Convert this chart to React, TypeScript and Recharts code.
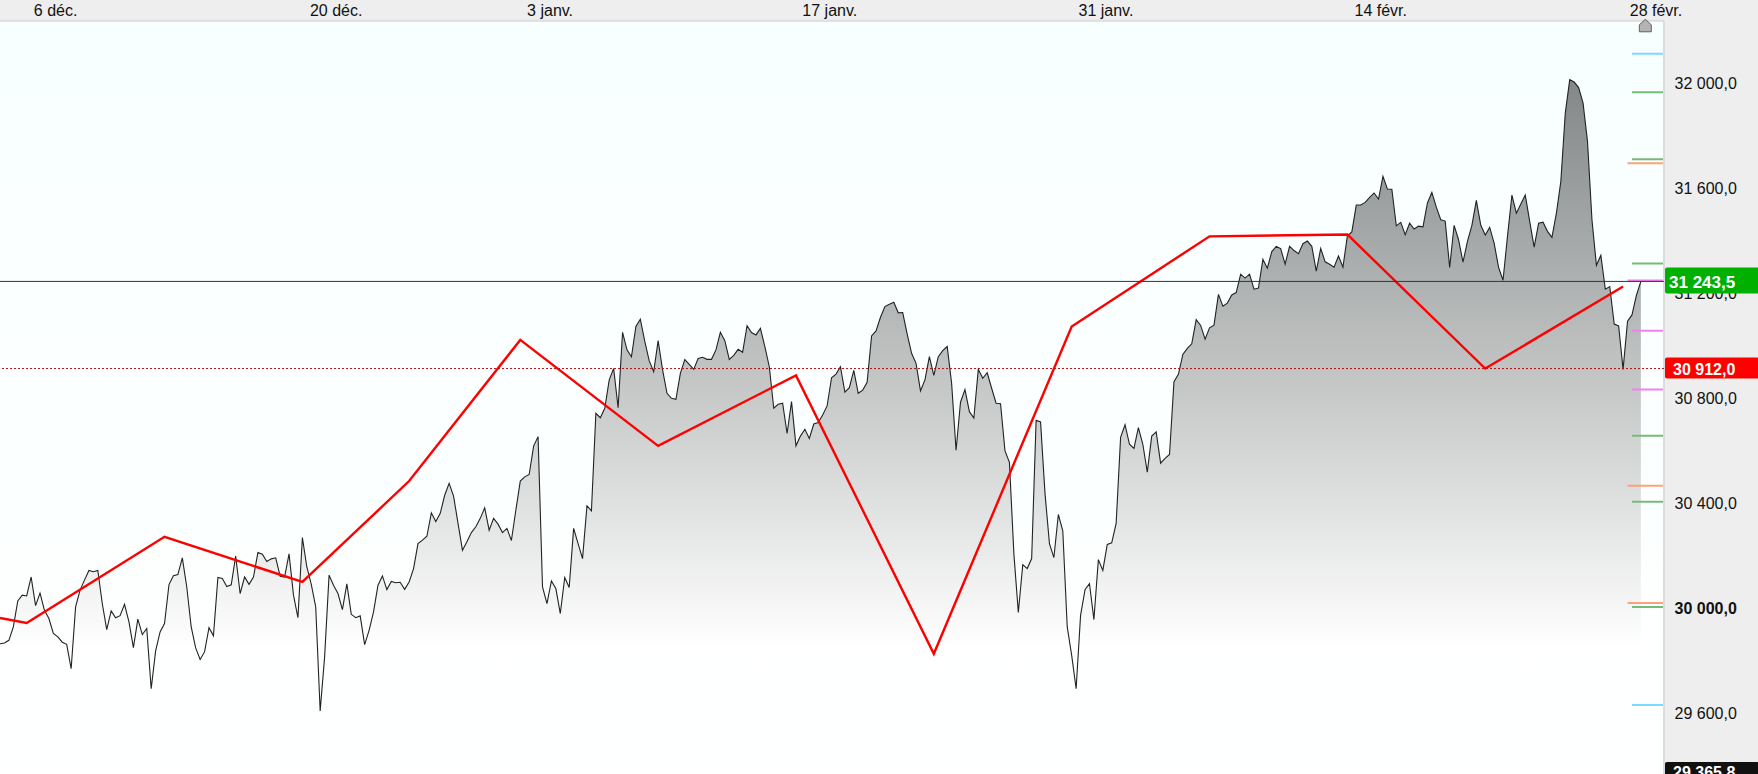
// App.tsx
import {
  ComposedChart,
  Area,
  Line,
  XAxis,
  YAxis,
  CartesianGrid,
  ReferenceLine,
  ReferenceDot,
} from 'recharts';

// Close of every bar
const closes = [
  29865, 29868, 29878, 29929, 30028, 30050, 30047, 30119, 30010, 30058, 29992, 29961, 29904, 29891, 29871, 29863,
  29770, 30005, 30069, 30107, 30144, 30139, 30144, 30018, 29919, 29990, 29964, 29972, 30015, 29948, 29850, 29959,
  29900, 29923, 29694, 29838, 29910, 29942, 30090, 30124, 30128, 30192, 30081, 29929, 29849, 29805, 29834, 29926,
  29895, 30117, 30113, 30083, 30089, 30199, 30056, 30119, 30091, 30119, 30212, 30206, 30178, 30188, 30192, 30122,
  30119, 30207, 30050, 29964, 30269, 30157, 30091, 30005, 29609, 29815, 30126, 30088, 30056, 29995, 30093, 29977,
  29964, 29971, 29862, 29916, 29986, 30088, 30123, 30071, 30102, 30097, 30099, 30072, 30100, 30151, 30246, 30259,
  30274, 30363, 30330, 30361, 30430, 30475, 30427, 30323, 30221, 30253, 30288, 30310, 30342, 30382, 30297, 30342,
  30320, 30288, 30304, 30258, 30373, 30484, 30500, 30509, 30617, 30653, 30081, 30018, 30104, 30075, 29980, 30117,
  30079, 30304, 30246, 30189, 30390, 30371, 30742, 30725, 30761, 30869, 30912, 30763, 31050, 30983, 30957, 31072,
  31100, 31015, 30941, 30900, 31018, 30907, 30818, 30799, 30795, 30894, 30946, 30928, 30909, 30950, 30955, 30947,
  30947, 30983, 31050, 31018, 30947, 30962, 30985, 30974, 31075, 31049, 31040, 31065, 30995, 30919, 30761, 30776,
  30780, 30665, 30786, 30618, 30655, 30681, 30646, 30701, 30707, 30735, 30770, 30877, 30891, 30919, 30822, 30839,
  30905, 30818, 30830, 30860, 31036, 31055, 31107, 31148, 31157, 31164, 31124, 31125, 31044, 30970, 30932, 30827,
  30869, 30957, 30886, 30957, 30980, 30996, 30856, 30601, 30784, 30832, 30748, 30724, 30909, 30875, 30896, 30837,
  30780, 30778, 30599, 30555, 30208, 29984, 30166, 30151, 30189, 30715, 30709, 30437, 30246, 30193, 30357, 30295,
  29929, 29821, 29694, 29973, 30071, 30094, 29957, 30185, 30144, 30243, 30249, 30323, 30650, 30698, 30624, 30608,
  30687, 30624, 30518, 30655, 30671, 30552, 30570, 30585, 30862, 30890, 30966, 30989, 31006, 31098, 31076, 31024,
  31067, 31077, 31194, 31149, 31161, 31192, 31201, 31271, 31256, 31271, 31214, 31218, 31328, 31294, 31357, 31377,
  31368, 31309, 31377, 31361, 31349, 31387, 31397, 31377, 31283, 31369, 31318, 31309, 31298, 31340, 31298, 31417,
  31432, 31534, 31534, 31544, 31563, 31580, 31557, 31643, 31595, 31594, 31455, 31468, 31421, 31465, 31443, 31454,
  31451, 31542, 31582, 31526, 31478, 31473, 31297, 31457, 31402, 31317, 31396, 31457, 31552, 31457, 31420, 31449,
  31389, 31297, 31248, 31415, 31572, 31503, 31538, 31572, 31472, 31374, 31465, 31469, 31434, 31411, 31503, 31624,
  31884, 32011, 32002, 31981, 31922, 31776, 31478, 31305, 31343, 31214, 31224, 31081, 31074, 30909, 31092, 31116,
  31191, 31243.5,
];

// weekly red line
const trendBars = [0, 6, 37, 68, 92, 117, 148, 179, 210, 241, 272, 303, 334, 365];
const trendValues = [29963, 29944, 30272, 30100, 30484, 31021, 30618, 30886, 29827, 31072, 31415, 31422, 30912, 31224];

const dateBars = [12.5, 75.6, 123.7, 186.6, 248.7, 310.5, 372.4];
const dateLabels = ['6 déc.', '20 déc.', '3 janv.', '17 janv.', '31 janv.', '14 févr.', '28 févr.'];
const priceTicks = [29600, 30000, 30400, 30800, 31200, 31600, 32000];

const lastPrice = 31243.5;
const refPrice = 30912;
const lowPrice = 29365.8;

// little marks on the right edge of the plot
const greenLevels = [31963, 31708, 31312, 30656, 30405, 30005];
const pinkLevels = [31056, 30832];
const cyanLevels = [32110, 29632];
const orangeLevels = [31693, 30466, 30020];
const longPinkLevels = [31247];

const BAR_MAX = 374.2;
const SHORT_FROM = 367;
const LONG_FROM = 366;
const TAG_Z = 2500; // tags sit above the axis ticks

const rows = closes.map((close, bar) => {
  const t = trendBars.indexOf(bar);
  return { bar, close, trend: t >= 0 ? trendValues[t] : null };
});

const formatPrice = (v: number) => {
  const fixed = v.toFixed(1).replace('.', ',');
  return fixed.slice(0, fixed.length - 5) + ' ' + fixed.slice(-5);
};

const PriceTick = ({ x, y, payload }: any) => (
  <text
    x={x + 2.5}
    y={y + 6}
    fontSize={16}
    fontFamily="Liberation Sans"
    fontWeight={payload.value === 30000 ? 700 : 400}
    fill="#111"
  >
    {formatPrice(payload.value)}
  </text>
);

const DateTick = ({ x, payload }: any) => (
  <text x={x} y={16} fontSize={16} fontFamily="Liberation Sans" textAnchor="middle" fill="#111">
    {dateLabels[dateBars.indexOf(payload.value)]}
  </text>
);

const priceTag = (value: number, fill: string, top: number, bottom: number, textX: number, size: number, base: number) =>
  ({ viewBox }: any) => {
    const left = viewBox.x + viewBox.width + 1;
    return (
      <g>
        <rect x={left} y={viewBox.y - top} width={94} height={top + bottom} fill={fill} rx={2} />
        <text
          x={left + textX}
          y={viewBox.y + base}
          fontSize={size}
          fontWeight={700}
          fontFamily="Liberation Sans"
          fill="#fff"
        >
          {formatPrice(value)}
        </text>
      </g>
    );
  };

const HomeMark = ({ cx, cy }: any) => (
  <path
    d={`M${cx - 6} ${cy + 6} V${cy - 1} L${cx} ${cy - 6.5} L${cx + 6} ${cy - 1} V${cy + 6} Z`}
    fill="#b4b4b4"
    stroke="#444"
    strokeWidth={0.8}
  />
);

const levelLine = (level: number, color: string, from: number) => (
  <ReferenceLine
    key={`${color}-${level}`}
    segment={[
      { x: from, y: level },
      { x: BAR_MAX, y: level },
    ]}
    stroke={color}
    strokeWidth={2}
  />
);

export default function App() {
  return (
    <div style={{ position: 'absolute', left: 0, top: 0, width: 1758, height: 774, background: '#eeeeee', overflow: 'hidden' }}>
      <ComposedChart width={1758} height={774} data={rows} margin={{ top: 0, right: 0, bottom: 0, left: 0 }}>
        <defs>
          <linearGradient id="plotBg" x1="0" y1="0" x2="0" y2="1">
            <stop offset="0%" stopColor="#f8ffff" />
            <stop offset="70%" stopColor="#fdffff" />
            <stop offset="100%" stopColor="#ffffff" />
          </linearGradient>
          <linearGradient id="closeFill" x1="0" y1="0" x2="0" y2="1">
            <stop offset="0%" stopColor="#838787" />
            <stop offset="82%" stopColor="#ffffff" />
            <stop offset="100%" stopColor="#ffffff" stopOpacity={0} />
          </linearGradient>
        </defs>
        <CartesianGrid horizontal={false} vertical={false} fill="url(#plotBg)" />
        <XAxis
          dataKey="bar"
          type="number"
          orientation="top"
          domain={[0, BAR_MAX]}
          ticks={dateBars}
          interval={0}
          height={20.7}
          tickLine={false}
          axisLine={{ stroke: '#dddddd', strokeWidth: 2 }}
          tick={DateTick}
        />
        <YAxis
          orientation="right"
          type="number"
          width={94}
          domain={[29369.5, 32235.4]}
          ticks={priceTicks}
          interval={0}
          tickLine={false}
          axisLine={{ stroke: '#dcdcdc', strokeWidth: 2 }}
          tick={PriceTick}
        />
        <Area
          dataKey="close"
          type="linear"
          stroke="#222222"
          strokeWidth={1.1}
          fill="url(#closeFill)"
          fillOpacity={1}
          dot={false}
          activeDot={false}
          isAnimationActive={false}
        />
        <Line
          dataKey="trend"
          type="linear"
          stroke="#ff0000"
          strokeWidth={2.4}
          connectNulls
          dot={false}
          activeDot={false}
          isAnimationActive={false}
        />
        {greenLevels.map((l) => levelLine(l, '#78ba78', SHORT_FROM))}
        {pinkLevels.map((l) => levelLine(l, '#f47ff2', SHORT_FROM))}
        {cyanLevels.map((l) => levelLine(l, '#7fd8ff', SHORT_FROM))}
        {orangeLevels.map((l) => levelLine(l, '#ffa07a', LONG_FROM))}
        {longPinkLevels.map((l) => levelLine(l, '#f47ff2', LONG_FROM))}
        <ReferenceLine
          y={lastPrice}
          stroke="#333"
          strokeWidth={1}
          zIndex={TAG_Z}
          label={priceTag(lastPrice, '#00b000', 14, 12, 4, 17, 6.5)}
        />
        <ReferenceLine
          y={refPrice}
          stroke="#b81010"
          strokeWidth={1}
          strokeDasharray="2 2"
          zIndex={TAG_Z}
          label={priceTag(refPrice, '#ff0000', 11, 10, 8, 16, 6.5)}
        />
        <ReferenceLine
          y={lowPrice}
          stroke="none"
          ifOverflow="visible"
          zIndex={TAG_Z}
          label={priceTag(lowPrice, '#111111', 13, 2, 8, 16, 3)}
        />
        <ReferenceDot x={370} y={32216} shape={HomeMark} />
      </ComposedChart>
    </div>
  );
}
